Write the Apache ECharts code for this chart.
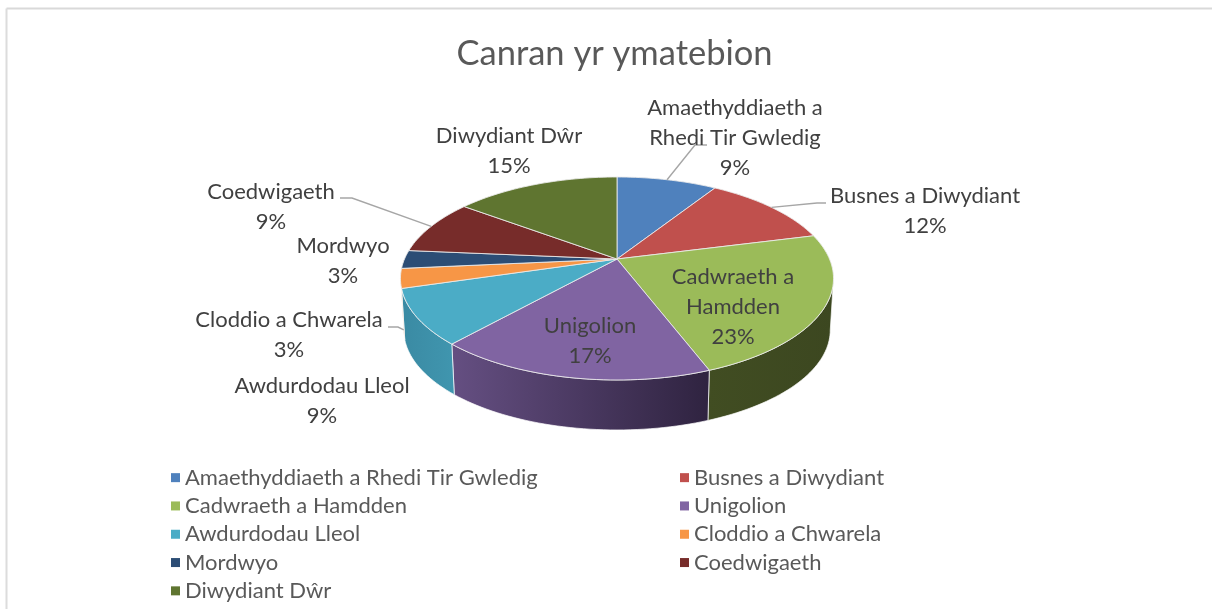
<!DOCTYPE html>
<html>
<head>
<meta charset="utf-8">
<style>
  html, body { margin: 0; padding: 0; background: #fff; }
  #chart { width: 1212px; height: 609px; }
</style>
<script src="https://cdn.jsdelivr.net/npm/echarts@6/dist/echarts.min.js"></script>
</head>
<body>
<div id="chart"></div>
<script>
  const titleText = 'Canran yr ymatebion'
  const categories = ['Amaethyddiaeth a Rhedi Tir Gwledig', 'Busnes a Diwydiant', 'Cadwraeth a Hamdden', 'Unigolion', 'Awdurdodau Lleol', 'Cloddio a Chwarela', 'Mordwyo', 'Coedwigaeth', 'Diwydiant Dŵr']
  const labelNames = ['Amaethyddiaeth a\nRhedi Tir Gwledig', 'Busnes a Diwydiant', 'Cadwraeth a\nHamdden', 'Unigolion', 'Awdurdodau Lleol', 'Cloddio a Chwarela', 'Mordwyo', 'Coedwigaeth', 'Diwydiant Dŵr']
  const shares = [9, 12, 23.2, 17.4, 8.8, 3.1, 2.9, 8.8, 14.8]

  const topColors = ['#4F81BD', '#C0504D', '#9BBB59', '#8064A2', '#4BACC6', '#F79646', '#2C4D75', '#772C2A', '#5F7530']
  const wallColors = {
    2: ['#3c4720', '#414d22'],
    3: ['#2f2340', '#654f82'],
    4: ['#4096af', '#3a8aa3'],
    5: ['#b8703a', '#b8703a']
  }
  const fontName = 'Lato, "Open Sans", sans-serif'

  // pie projection, fitted to the picture: perspective circle with a wall below it
  const pie = { x: 617, y: 259, r: 212.5, h: 97.75, k: 0.192, wallY: 310.8, wallScale: 0.985, edgeFrom: 101, edgeTo: 259 }

  // label centres and leader lines in screen pixels
  const labelAt = [[735, 138], [925, 211], [733, 307], [590, 341], [322, 401], [289, 335], [343, 261], [271, 207], [509, 151]]
  const leaders = { 0: { ring: 'top', pts: [[695, 145], [707, 145]] }, 1: { ring: 'top', pts: [[817, 203], [826, 203]] }, 5: { ring: 'bottom', pts: [[398, 327], [388, 327]] }, 7: { ring: 'top', pts: [[352, 198], [340, 198]] } }

  const total = shares.reduce((a, b) => a + b, 0)
  const starts = []
  shares.reduce((sum, v, i) => { starts[i] = sum; return sum + v }, 0)
  const toDeg = v => v / total * 360

  function rimTop(deg) {
    const t = deg * Math.PI / 180
    const s = Math.sin(t), c = Math.cos(t), d = 1 + pie.k * c
    return [pie.x + pie.r * s / d, pie.y - pie.h * c / d]
  }
  function rimBottom(deg) {
    const p = rimTop(deg)
    return [pie.x + (p[0] - pie.x) * pie.wallScale, pie.wallY + (p[1] - pie.y) * pie.wallScale]
  }
  function arc(fn, a, b) {
    const pts = []
    const n = Math.max(2, Math.ceil((b - a) / 1.5))
    for (let i = 0; i <= n; i++) pts.push(fn(a + (b - a) * i / n))
    return pts
  }

  function renderSlice(params, api) {
    const i = params.seriesIndex
    const a = toDeg(starts[i])
    const b = a + toDeg(api.value(0))
    const children = []
    const wa = Math.max(a, pie.edgeFrom), wb = Math.min(b, pie.edgeTo)
    if (wb > wa && wallColors[i]) {
      const top = arc(rimTop, wa, wb)
      const bottom = arc(rimBottom, wa, wb).reverse()
      children.push({
        type: 'polygon',
        shape: { points: top.concat(bottom) },
        style: {
          fill: new echarts.graphic.LinearGradient(0, 0, 1, 0, [
            { offset: 0, color: wallColors[i][1] },
            { offset: 1, color: wallColors[i][0] }
          ]),
          stroke: 'rgba(255,255,255,0.7)',
          lineWidth: 1
        }
      })
    }
    children.push({
      type: 'polygon',
      shape: { points: [[pie.x, pie.y]].concat(arc(rimTop, a, b)) },
      style: { fill: topColors[i], stroke: 'rgba(235,235,235,0.85)', lineWidth: 1 }
    })
    return { type: 'group', children: children }
  }

  function renderLabel(params, api) {
    const i = api.value(0)
    const children = []
    const lead = leaders[i]
    if (lead) {
      const mid = toDeg(starts[i] + shares[i] / 2)
      const from = lead.ring === 'top' ? rimTop(mid) : rimBottom(mid)
      children.push({
        type: 'polyline',
        shape: { points: [from].concat(lead.pts) },
        style: { fill: 'none', stroke: '#a6a6a6', lineWidth: 1.4 }
      })
    }
    children.push({
      type: 'text',
      style: {
        text: labelNames[i] + '\n' + Math.round(shares[i]) + '%',
        x: labelAt[i][0],
        y: labelAt[i][1],
        align: 'center',
        verticalAlign: 'middle',
        fontFamily: fontName,
        fontSize: 22,
        lineHeight: 29.6,
        fill: '#404040'
      }
    })
    return { type: 'group', children: children }
  }

  const series = categories.map((name, i) => ({
    name: name,
    type: 'custom',
    coordinateSystem: 'none',
    silent: true,
    itemStyle: { color: topColors[i] },
    renderItem: renderSlice,
    data: [[shares[i]]],
    z: 2
  }))
  series.push({
    name: 'labels',
    type: 'custom',
    coordinateSystem: 'none',
    silent: true,
    renderItem: renderLabel,
    data: categories.map((c, i) => [i]),
    z: 5
  })

  const legendBase = {
    orient: 'vertical',
    top: 465,
    padding: 0,
    icon: 'rect',
    itemWidth: 9,
    itemHeight: 9,
    itemGap: 3,
    selectedMode: false,
    textStyle: { fontFamily: fontName, fontSize: 22, lineHeight: 25.3, color: '#595959' }
  }

  const chart = echarts.init(document.getElementById('chart'))
  chart.setOption({
    animation: false,
    backgroundColor: '#ffffff',
    title: {
      text: titleText,
      left: 609.5,
      top: 31,
      textAlign: 'center',
      textStyle: { fontFamily: fontName, fontSize: 34.5, fontWeight: 'normal', color: '#595959' }
    },
    legend: [
      Object.assign({}, legendBase, { left: 171, data: categories.filter((c, i) => i % 2 === 0) }),
      Object.assign({}, legendBase, { left: 680, data: categories.filter((c, i) => i % 2 === 1) })
    ],
    graphic: [
      { type: 'line', silent: true, shape: { x1: 6.5, y1: 8.5, x2: 1212, y2: 8.5 }, style: { stroke: '#d9d9d9', lineWidth: 2 } },
      { type: 'line', silent: true, shape: { x1: 6.5, y1: 8.5, x2: 6.5, y2: 609 }, style: { stroke: '#dcdcdc', lineWidth: 2 } }
    ],
    series: series
  })
</script>
</body>
</html>
